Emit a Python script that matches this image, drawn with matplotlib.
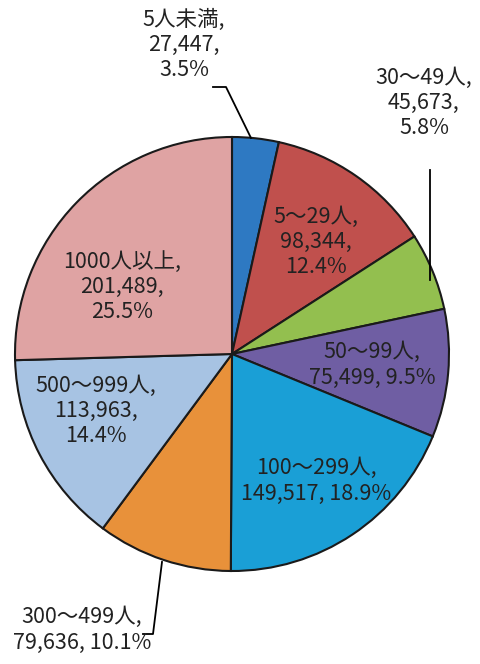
"""
Pie chart: employees by establishment size.
"""
import matplotlib.pyplot as plt

plt.rcParams['font.family'] = ['Noto Sans CJK JP', 'DejaVu Sans']

categories = ['5人未満', '5～29人', '30～49人', '50～99人',
              '100～299人', '300～499人', '500～999人', '1000人以上']
counts = [27447, 98344, 45673, 75499, 149517, 79636, 113963, 201489]
percents = [3.5, 12.4, 5.8, 9.5, 18.9, 10.1, 14.4, 25.5]

colors = ['#2e79c2', '#c0504d', '#93bf4f', '#6f5ea3',
          '#1a9fd6', '#e8913a', '#a7c3e3', '#dfa3a3']

# label layout (pixel coords of text centre, line break pattern)
label_pos = [(184, 45), (316, 242), (424, 103), (372, 365),
             (316, 481), (82, 630), (96, 411), (122, 287)]
label_breaks = [(True, True), (True, True), (True, True), (True, False),
                (True, False), (True, False), (True, True), (True, True)]

W, H = 481, 664
fig = plt.figure(figsize=(W / 100, H / 100), dpi=100)
ax = fig.add_axes([0, 0, 1, 1])

cx, cy, r = 232, H - 354, 217
ax.pie(counts, colors=colors, startangle=90, counterclock=False,
       center=(cx, cy), radius=r, frame=True,
       wedgeprops=dict(edgecolor='#1a1a1a', linewidth=1.5))
ax.set_xlim(0, W)
ax.set_ylim(0, H)
ax.set_aspect('equal')
ax.axis('off')

for name, n, p, (x, y), (b1, b2) in zip(categories, counts, percents,
                                         label_pos, label_breaks):
    s = name + (',\n' if b1 else ', ') + f'{n:,}' + (',\n' if b2 else ', ') + f'{p}%'
    ax.text(x, H - y, s, ha='center', va='center', fontsize=15.5,
            linespacing=1.2, color='#222222')

# leader lines
ax.plot([213, 226, 251], [H - 87, H - 87, H - 138], color='black', lw=1.3)
ax.plot([430, 430], [H - 170, H - 280], color='black', lw=1.3)
ax.plot([143, 153, 162], [H - 634, H - 634, H - 562], color='black', lw=1.3)

fig.savefig('out.png', dpi=100, facecolor='white')
